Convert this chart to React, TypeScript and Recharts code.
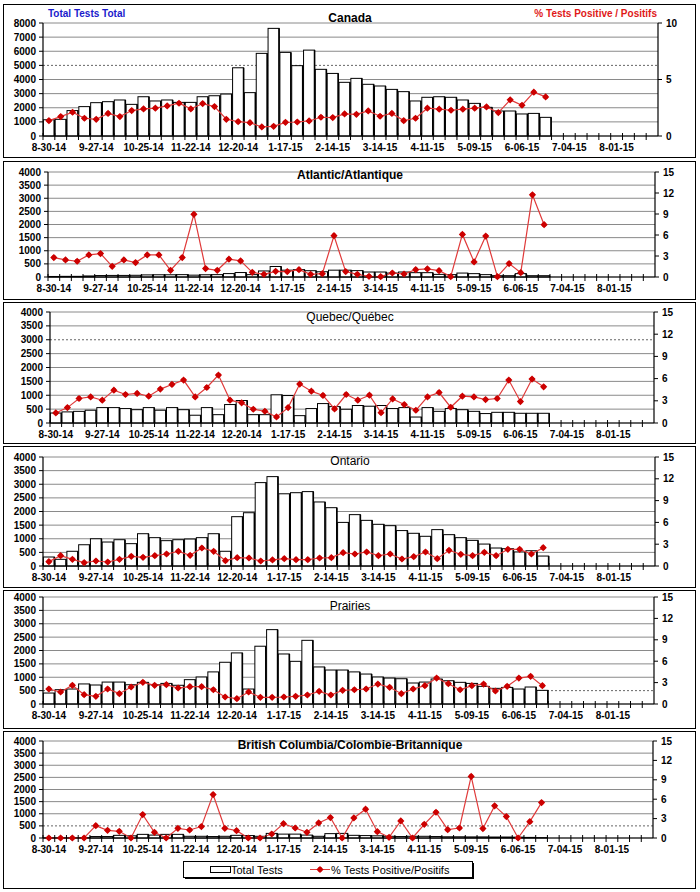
import React from "react";
import { ComposedChart, Bar, Line, XAxis, YAxis, CartesianGrid } from "recharts";

const WEEKS = [
  "8-30-14", "9-06-14", "9-13-14", "9-20-14", "9-27-14", "10-04-14", "10-11-14", "10-18-14", "10-25-14",
  "11-01-14", "11-08-14", "11-15-14", "11-22-14", "11-29-14", "12-06-14", "12-13-14", "12-20-14", "12-27-14",
  "1-03-15", "1-10-15", "1-17-15", "1-24-15", "1-31-15", "2-07-15", "2-14-15", "2-21-15", "2-28-15",
  "3-07-15", "3-14-15", "3-21-15", "3-28-15", "4-04-15", "4-11-15", "4-18-15", "4-25-15", "5-02-15",
  "5-09-15", "5-16-15", "5-23-15", "5-30-15", "6-06-15", "6-13-15", "6-20-15", "6-27-15", "7-04-15",
  "7-11-15", "7-18-15", "7-25-15", "8-01-15", "8-08-15", "8-15-15", "8-22-15",
];
const TICK_LABELS = [
  "8-30-14", "9-27-14", "10-25-14", "11-22-14", "12-20-14", "1-17-15", "2-14-15",
  "3-14-15", "4-11-15", "5-09-15", "6-06-15", "7-04-15", "8-01-15",
];

const CANADA_LEFT_TICKS = [0, 1000, 2000, 3000, 4000, 5000, 6000, 7000, 8000];
const CANADA_RIGHT_TICKS = [0, 5, 10];
const REGION_LEFT_TICKS = [0, 500, 1000, 1500, 2000, 2500, 3000, 3500, 4000];
const REGION_RIGHT_TICKS = [0, 3, 6, 9, 12, 15];

const canadaTests = [1150, 1180, 1800, 2080, 2360, 2430, 2550, 2240, 2780, 2480, 2550, 2380, 2380, 2780, 2850, 2970, 4830, 3070, 5850, 7620, 5920, 4980, 6080, 4720, 4430, 3800, 4080, 3660, 3540, 3300, 3140, 2480, 2740, 2780, 2740, 2550, 2310, 2030, 1770, 1770, 1560, 1600, 1320];
const canadaPct = [1.36, 1.72, 2.1, 1.57, 1.48, 2.0, 1.72, 2.25, 2.4, 2.46, 2.66, 2.9, 2.4, 2.87, 2.6, 1.48, 1.27, 1.18, 0.8, 0.86, 1.21, 1.24, 1.33, 1.66, 1.63, 1.95, 1.92, 2.22, 1.75, 2.0, 1.36, 1.57, 2.46, 2.37, 2.28, 2.37, 2.46, 2.57, 2.07, 3.2, 2.72, 3.88, 3.46];

const atlanticTests = [20, 25, 25, 40, 55, 60, 60, 65, 80, 85, 85, 90, 70, 85, 90, 130, 170, 90, 230, 400, 260, 280, 240, 200, 260, 260, 243, 190, 190, 150, 190, 165, 165, 100, 90, 150, 128, 90, 50, 50, 128, 50, 50];
const atlanticPct = [2.78, 2.44, 2.25, 3.16, 3.35, 1.53, 2.44, 2.06, 3.16, 3.16, 0.96, 2.78, 8.96, 1.2, 0.96, 2.54, 2.3, 0.67, 0.38, 0.81, 0.77, 1.05, 0.38, 0.48, 5.9, 0.77, 0.38, 0.1, 0.05, 0.57, 0.43, 1.05, 1.15, 0.9, 0.05, 6.08, 2.16, 5.85, 0.05, 1.92, 0.62, 11.74, 7.47];

const quebecTests = [360, 400, 420, 460, 555, 555, 520, 480, 555, 460, 555, 480, 280, 555, 300, 665, 810, 300, 300, 1015, 990, 265, 520, 700, 590, 495, 630, 605, 630, 520, 555, 215, 555, 420, 520, 480, 420, 340, 385, 385, 350, 350, 350];
const quebecPct = [1.36, 2.08, 3.31, 3.53, 3.08, 4.44, 3.85, 3.99, 3.62, 4.58, 5.21, 5.8, 3.53, 4.8, 6.48, 3.08, 2.72, 1.86, 1.59, 0.82, 2.08, 5.26, 4.3, 3.72, 1.9, 3.85, 3.08, 3.76, 1.4, 3.26, 2.49, 1.72, 3.53, 4.12, 2.13, 3.62, 3.53, 3.17, 3.31, 5.8, 2.9, 5.94, 4.89];

const ontarioTests = [330, 245, 540, 780, 1000, 880, 965, 820, 1185, 1040, 930, 965, 990, 1040, 1185, 540, 1810, 1955, 3060, 3280, 2650, 2690, 2730, 2350, 2140, 1600, 1885, 1675, 1530, 1480, 1300, 1200, 1090, 1335, 1150, 1040, 940, 805, 660, 635, 515, 560, 365];
const ontarioPct = [0.6, 1.42, 0.92, 0.46, 0.69, 0.55, 0.92, 1.33, 1.19, 1.42, 1.65, 2.02, 1.47, 2.48, 2.02, 0.73, 1.15, 1.1, 0.69, 0.83, 1.01, 0.87, 0.87, 1.1, 1.15, 1.83, 1.65, 1.93, 1.42, 1.65, 0.96, 1.28, 1.93, 1.01, 2.16, 1.6, 1.42, 1.88, 1.42, 2.29, 2.29, 1.65, 2.52];

const prairiesTests = [410, 535, 560, 750, 710, 820, 820, 720, 810, 720, 770, 700, 910, 1010, 1200, 1560, 1910, 560, 2160, 2780, 1870, 1595, 2380, 1385, 1270, 1270, 1200, 1120, 1010, 970, 945, 785, 820, 935, 870, 810, 770, 660, 585, 620, 560, 635, 510];
const prairiesPct = [2.1, 1.68, 2.62, 1.31, 1.07, 2.1, 1.45, 2.38, 3.04, 2.62, 2.71, 2.24, 2.43, 2.43, 2.0, 0.98, 0.75, 1.68, 0.93, 0.93, 0.98, 1.07, 1.26, 1.78, 1.26, 1.92, 2.0, 2.1, 2.8, 2.34, 1.45, 2.1, 2.57, 3.64, 2.85, 2.0, 2.57, 2.8, 1.82, 2.48, 3.64, 3.88, 2.57];

const bcTests = [5, 5, 5, 10, 60, 60, 110, 90, 150, 120, 150, 150, 70, 70, 60, 70, 110, 100, 70, 190, 160, 160, 120, 70, 180, 190, 110, 100, 90, 70, 60, 70, 70, 60, 50, 50, 45, 45, 40, 40, 35, 25, 15];
const bcPct = [0, 0, 0, 0, 1.91, 1.19, 1.03, 0, 3.62, 0.88, 0, 1.5, 1.24, 1.76, 6.72, 1.5, 1.14, 0, 0, 0.62, 2.22, 1.55, 0.88, 2.33, 3.16, 0, 3.1, 4.45, 0.98, 0.1, 2.64, 0, 2.12, 3.98, 1.29, 1.55, 9.52, 1.45, 4.97, 3.31, 0, 2.53, 5.48];

const FONT = "'Liberation Sans', Arial, sans-serif";
const RED = "#cc0000";
const LINE_RED = "#e03a3a";

// geometry in page pixels
const PANELS = [
  { title: "Canada", bold: true, tests: canadaTests, pct: canadaPct, leftMax: 8000, leftTicks: CANADA_LEFT_TICKS, rightMax: 10, rightTicks: CANADA_RIGHT_TICKS, threshold: 5000, top: 4, h: 154, pl: 43, pr: 658, pt: 23, pb: 136, titleY: 22 },
  { title: "Atlantic/Atlantique", bold: true, tests: atlanticTests, pct: atlanticPct, leftMax: 4000, leftTicks: REGION_LEFT_TICKS, rightMax: 15, rightTicks: REGION_RIGHT_TICKS, threshold: null, top: 161, h: 139, pl: 48, pr: 655, pt: 172, pb: 277, titleY: 179 },
  { title: "Quebec/Québec", bold: false, tests: quebecTests, pct: quebecPct, leftMax: 4000, leftTicks: REGION_LEFT_TICKS, rightMax: 15, rightTicks: REGION_RIGHT_TICKS, threshold: 3000, top: 302, h: 142, pl: 50, pr: 654, pt: 312, pb: 423, titleY: 321 },
  { title: "Ontario", bold: false, tests: ontarioTests, pct: ontarioPct, leftMax: 4000, leftTicks: REGION_LEFT_TICKS, rightMax: 15, rightTicks: REGION_RIGHT_TICKS, threshold: null, top: 446, h: 142, pl: 43, pr: 655, pt: 457, pb: 566, titleY: 465 },
  { title: "Prairies", bold: false, tests: prairiesTests, pct: prairiesPct, leftMax: 4000, leftTicks: REGION_LEFT_TICKS, rightMax: 15, rightTicks: REGION_RIGHT_TICKS, threshold: 500, top: 590, h: 139, pl: 43, pr: 654, pt: 597, pb: 704, titleY: 610 },
  { title: "British Columbia/Colombie-Britannique", bold: true, tests: bcTests, pct: bcPct, leftMax: 4000, leftTicks: REGION_LEFT_TICKS, rightMax: 15, rightTicks: REGION_RIGHT_TICKS, threshold: 500, top: 731, h: 158, pl: 43, pr: 653, pt: 741, pb: 838, titleY: 749 },
];

function WeekTick(props: any) {
  const { x, y, payload, bw } = props;
  const bx = x - bw / 2;
  const show = TICK_LABELS.includes(payload.value);
  return (
    <g>
      <line x1={bx} x2={bx} y1={y - 3} y2={y + 4} stroke="#000" strokeWidth={1} />
      {show && (
        <text x={x} y={y + 15} textAnchor="middle" fontSize={10} fontWeight="bold" fill="#000">
          {payload.value}
        </text>
      )}
    </g>
  );
}

function Diamond(props: any) {
  const { cx, cy, index } = props;
  if (cx == null || cy == null || props.value == null) return <g key={index} />;
  const s = 3.6;
  return (
    <g key={index}>
      <path d={`M${cx},${cy - s} L${cx + s},${cy} L${cx},${cy + s} L${cx - s},${cy} Z`} fill={RED} />
      <circle cx={cx} cy={cy} r={2.4} fill={RED} />
    </g>
  );
}

function TestBar(props: any) {
  const { x, y, width, height } = props;
  if (height == null || height <= 0) return <g />;
  return (
    <g>
      <rect x={x} y={y} width={width} height={height} fill="#fff" stroke="#000" strokeWidth={1} />
      <line x1={x + width} x2={x + width} y1={y} y2={y + height} stroke="#000" strokeWidth={1.6} />
    </g>
  );
}

function Panel({ p }: { p: (typeof PANELS)[number] }) {
  const chartTop = p.top + 1;
  const ch = p.h - 2;
  const marginTop = p.pt - chartTop;
  const xAxisH = chartTop + ch - p.pb;
  const leftW = p.pl - 4;
  const rightW = 695 - p.pr;
  const bw = (p.pr - p.pl) / WEEKS.length;
  const rows = WEEKS.map((w, i) => ({
    week: w,
    tests: i < p.tests.length ? p.tests[i] : null,
    pct: i < p.pct.length ? p.pct[i] : null,
  }));
  const gridValues = p.leftTicks.filter((t) => t !== p.threshold);
  const tickStyle = { fill: "#000", fontSize: 10, fontWeight: "bold" as const };
  return (
    <div style={{ position: "absolute", left: 3, top: p.top, width: 693, height: p.h, border: "1px solid #000", boxSizing: "border-box", background: "#fff" }}>
      <ComposedChart width={691} height={ch} data={rows} margin={{ top: marginTop, right: 0, bottom: 0, left: 0 }} barCategoryGap="3%">
        <CartesianGrid vertical={false} stroke="#8a8a8a" yAxisId="left" horizontalValues={gridValues} />
        {p.threshold != null && (
          <CartesianGrid vertical={false} stroke="#666" strokeDasharray="2 2" yAxisId="left" horizontalValues={[p.threshold]} />
        )}
        <XAxis
          dataKey="week"
          height={xAxisH}
          interval={0}
          tickLine={false}
          tickSize={0}
          tickMargin={0}
          axisLine={{ stroke: "#000", strokeWidth: 1.2 }}
          tick={(tp: any) => <WeekTick {...tp} bw={bw} />}
        />
        <YAxis
          yAxisId="left"
          width={leftW}
          domain={[0, p.leftMax]}
          ticks={p.leftTicks}
          interval={0}
          tick={tickStyle}
          tickSize={4}
          tickMargin={3}
          axisLine={{ stroke: "#000", strokeWidth: 1.2 }}
          tickLine={{ stroke: "#000" }}
        />
        <YAxis
          yAxisId="right"
          orientation="right"
          width={rightW}
          domain={[0, p.rightMax]}
          ticks={p.rightTicks}
          interval={0}
          tick={tickStyle}
          tickSize={4}
          tickMargin={4}
          axisLine={{ stroke: "#000", strokeWidth: 1.2 }}
          tickLine={{ stroke: "#000" }}
        />
        <Bar yAxisId="left" dataKey="tests" shape={<TestBar />} isAnimationActive={false} />
        <Line
          yAxisId="right"
          dataKey="pct"
          type="linear"
          stroke={LINE_RED}
          strokeWidth={1.2}
          dot={(dp: any) => <Diamond {...dp} />}
          activeDot={false}
          isAnimationActive={false}
        />
      </ComposedChart>
    </div>
  );
}

export default function App() {
  return (
    <div style={{ position: "relative", width: 700, height: 892, fontFamily: FONT, background: "#fff" }}>
      <style>{"body{margin:0}"}</style>
      {PANELS.map((p) => (
        <Panel key={p.title} p={p} />
      ))}
      <svg width={700} height={892} style={{ position: "absolute", left: 0, top: 0, pointerEvents: "none", fontFamily: FONT }}>
        <text x={48} y={17} fontSize={10} fontWeight="bold" fill="#1a1acc">Total Tests Total</text>
        <text x={657} y={17} fontSize={10} fontWeight="bold" fill="#e01818" textAnchor="end">% Tests Positive / Positifs</text>
        {PANELS.map((p) => (
          <text key={p.title} x={350} y={p.titleY} fontSize={12} fontWeight={p.bold ? "bold" : "normal"} fill="#000" textAnchor="middle">
            {p.title}
          </text>
        ))}
        <rect x={185} y={863} width={289} height={16} fill="#000" />
        <rect x={183.5} y={861.5} width={289} height={16} fill="#fff" stroke="#000" />
        <rect x={210.5} y={866.5} width={20} height={6} fill="#fff" stroke="#000" />
        <text x={231} y={873.5} fontSize={11} fill="#000">Total Tests</text>
        <line x1={310} x2={330} y1={869.5} y2={869.5} stroke={LINE_RED} strokeWidth={1} />
        <Diamond cx={320} cy={869.5} value={1} index={0} />
        <text x={331} y={873.5} fontSize={11} fill="#000">% Tests Positive/Positifs</text>
      </svg>
    </div>
  );
}
